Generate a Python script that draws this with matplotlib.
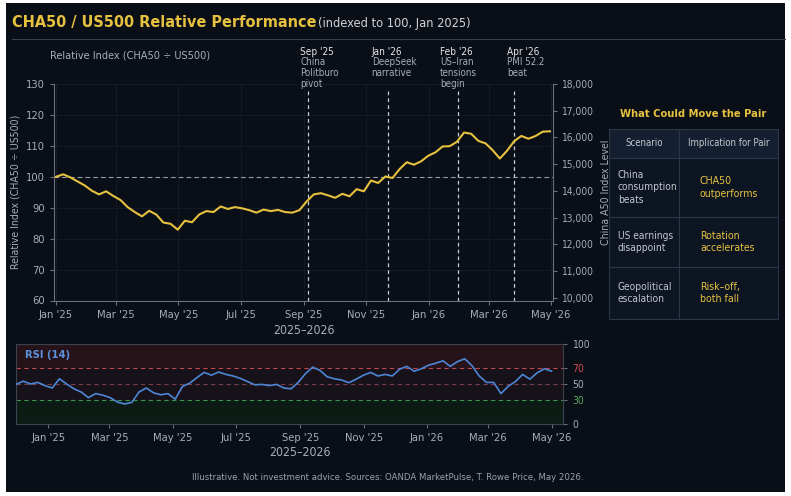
import numpy as np
import pandas as pd
import matplotlib
matplotlib.use('Agg')
import matplotlib.pyplot as plt
import matplotlib.dates as mdates
from matplotlib.patches import Rectangle
from matplotlib.ticker import FuncFormatter

plt.rcParams['font.family'] = ['DejaVu Sans']
plt.rcParams['font.stretch'] = 'condensed'

# relative index CHA50 / US500, weekly readings Jan 2025 - Apr 2026
rel_index = [100.0, 100.8, 99.8, 98.5, 97.2, 95.5, 94.3, 95.3, 93.8, 92.5,
             90.2, 88.6, 87.2, 89.0, 87.8, 85.2, 84.8, 82.9, 85.8, 85.3,
             87.8, 88.9, 88.6, 90.4, 89.6, 90.2, 89.8, 89.2, 88.4, 89.4,
             88.9, 89.3, 88.6, 88.4, 89.2, 92.0, 94.3, 94.7, 94.0, 93.2,
             94.5, 93.7, 96.0, 95.3, 98.8, 98.0, 100.1, 99.6, 102.5, 104.7,
             103.9, 105.0, 106.8, 107.9, 109.8, 109.9, 111.3, 114.3, 113.9, 111.6,
             110.8, 108.6, 105.9, 108.4, 111.5, 113.2, 112.3, 113.2, 114.6, 114.7]
rel_dates = pd.date_range('2025-01-01', '2026-04-30', periods=len(rel_index))

# RSI(14), weekly readings Dec 2024 - May 2026
rsi = [49.5, 53.5, 50, 52, 48, 45, 56.5, 50, 44, 40,
       33, 38, 36, 33, 27.5, 25, 27, 40, 45, 39,
       36.5, 38, 31, 47, 51, 58, 64.5, 61, 65, 62,
       60, 57, 53, 49, 49.5, 48, 49.5, 45, 44, 52,
       63, 71, 67, 59, 56.5, 55, 51.6, 56, 61, 64.5,
       60, 62, 60, 68.5, 72, 66, 69, 73.5, 76, 79,
       72, 78, 81.5, 73, 60, 52, 52, 38, 47, 53,
       62, 56, 64, 69, 66]
rsi_dates = pd.date_range('2024-12-01', '2026-05-01', periods=len(rsi))

event_dates = pd.to_datetime(['2025-09-05', '2025-11-22', '2026-01-30', '2026-03-26'])
event_tags = ["Sep '25", "Jan '26", "Feb '26", "Apr '26"]
event_notes = ["China\nPolitburo\npivot", "DeepSeek\nnarrative", "US\u2013Iran\ntensions\nbegin", "PMI 52.2\nbeat"]
event_shift = [-8, -16, -18, -7]

rel_ticks = [60, 70, 80, 90, 100, 110, 120, 130]
a50_ticks = [10000, 11000, 12000, 13000, 14000, 15000, 16000, 17000, 18000]
rsi_ticks = [0, 30, 50, 70, 100]

table_header = ["Scenario", "Implication for Pair"]
scenarios = ["China\nconsumption\nbeats", "US earnings\ndisappoint", "Geopolitical\nescalation"]
implications = ["CHA50\noutperforms", "Rotation\naccelerates", "Risk\u2013off,\nboth fall"]

BG = '#0a0e16'
GOLD = '#e6c140'
GRAY = '#a9aeb6'
SPINE = '#6a707a'
W, H = 791, 496

fig = plt.figure(figsize=(7.91, 4.96), dpi=100, facecolor='white')
fig.patches.append(Rectangle((6 / W, 4 / H), 779 / W, 489 / H, transform=fig.transFigure,
                             facecolor=BG, edgecolor='none', zorder=-10))


def px(x0, y0, x1, y1):
    return [x0 / W, 1 - y1 / H, (x1 - x0) / W, (y1 - y0) / H]


# title
fig.text(12 / W, 1 - 22 / H, "CHA50 / US500 Relative Performance", color=GOLD,
         fontsize=11.6, fontweight='bold', va='center')
fig.text(318 / W, 1 - 23 / H, "(indexed to 100, Jan 2025)", color='#cfd2d6',
         fontsize=9.2, va='center')
fig.add_artist(plt.Line2D([12 / W, 785 / W], [1 - 39 / H, 1 - 39 / H], color='#3a404a', lw=0.8))
fig.text(50 / W, 1 - 56 / H, "Relative Index (CHA50 \u00f7 US500)", color=GRAY, fontsize=7.8, va='center')

# main panel
ax = fig.add_axes(px(54, 84, 553, 300.5))
ax.set_facecolor(BG)
ax.plot(rel_dates, rel_index, color=GOLD, lw=1.5, zorder=3)
ax.axhline(100, color='#9aa0a8', lw=0.8, ls=(0, (4, 3)), zorder=2)
ax.set_ylim(60, 130)
ax.set_yticks(rel_ticks)
ax.set_xlim(pd.Timestamp('2024-12-30'), pd.Timestamp('2026-05-03'))
ax.xaxis.set_major_locator(mdates.MonthLocator(bymonth=[1, 3, 5, 7, 9, 11]))
ax.xaxis.set_major_formatter(mdates.DateFormatter("%b '%y"))
ax.grid(True, color='#171d29', lw=0.6)
for s in ['top', 'right']:
    ax.spines[s].set_visible(False)
for s in ['left', 'bottom']:
    ax.spines[s].set_color(SPINE)
ax.tick_params(colors=SPINE, labelcolor=GRAY, labelsize=8, length=3)
ax.set_ylabel("Relative Index (CHA50 \u00f7 US500)", color=GRAY, fontsize=7.6, labelpad=4)
ax.set_xlabel("2025\u20132026", color=GRAY, fontsize=8.8, labelpad=3)

for d, tag, note, sh in zip(event_dates, event_tags, event_notes, event_shift):
    dn = mdates.date2num(d)
    ax.plot([d, d], [60, 128.5], color='#c9cdd3', lw=0.9, ls=(0, (3, 2.5)), zorder=2)
    ax.annotate(tag, xy=(dn, 1), xycoords=ax.get_xaxis_transform(), xytext=(sh * 0.72, 32 * 0.72),
                textcoords='offset points', color='#e4e6ea', fontsize=7.2, va='center', ha='left')
    ax.annotate(note, xy=(dn, 1), xycoords=ax.get_xaxis_transform(), xytext=(sh * 0.72, 27 * 0.72),
                textcoords='offset points', color=GRAY, fontsize=7, va='top', ha='left',
                linespacing=1.1)

ax2 = ax.twinx()
ax2.set_ylim(9900, 18000)
ax2.set_yticks(a50_ticks)
ax2.yaxis.set_major_formatter(FuncFormatter(lambda v, _: f'{v:,.0f}'))
for s in ['top', 'left', 'bottom']:
    ax2.spines[s].set_visible(False)
ax2.spines['right'].set_color(SPINE)
ax2.tick_params(colors=SPINE, labelcolor=GRAY, labelsize=7.3, length=3)
ax2.set_ylabel("China A50 Index Level", color=GRAY, fontsize=7.6, labelpad=5)

# RSI panel
ax3 = fig.add_axes(px(16, 344, 563, 424))
ax3.set_facecolor(BG)
ax3.axhspan(70, 100, color='#26131a', lw=0)
ax3.axhspan(30, 70, color='#17121a', lw=0)
ax3.axhspan(0, 30, color='#0c1c15', lw=0)
ax3.axhline(70, color='#c2464e', lw=0.8, ls=(0, (4, 3)))
ax3.axhline(50, color='#7a3d46', lw=0.8, ls=(0, (4, 3)))
ax3.axhline(30, color='#3f9150', lw=0.8, ls=(0, (4, 3)))
ax3.plot(rsi_dates, rsi, color='#4d86d6', lw=1.2, zorder=3)
ax3.set_ylim(0, 100)
ax3.set_xlim(pd.Timestamp('2024-12-01'), pd.Timestamp('2026-05-12'))
ax3.yaxis.tick_right()
ax3.set_yticks(rsi_ticks)
ax3.xaxis.set_major_locator(mdates.MonthLocator(bymonth=[1, 3, 5, 7, 9, 11]))
ax3.xaxis.set_major_formatter(mdates.DateFormatter("%b '%y"))
for s in ax3.spines.values():
    s.set_color('#3c434e')
ax3.tick_params(colors=SPINE, labelcolor=GRAY, labelsize=8, length=3)
ax3.tick_params(axis='y', labelsize=7.5)
for lbl, val in zip(ax3.get_yticklabels(), rsi_ticks):
    if val == 70:
        lbl.set_color('#d0504f')
    elif val == 30:
        lbl.set_color('#5aa85f')
ax3.text(0.016, 0.86, "RSI (14)", transform=ax3.transAxes, color='#5b90dc', fontsize=8,
         fontweight='bold', va='center')
fig.text(300 / W, 1 - 452 / H, "2025\u20132026", color=GRAY, fontsize=8.8, ha='center', va='center')
fig.text(583 / W, 1 - 478 / H,
         "Illustrative. Not investment advice. Sources: OANDA MarketPulse, T. Rowe Price, May 2026.",
         color='#9ca1a9', fontsize=6.8, ha='right', va='center')

# scenario table
ov = fig.add_axes([0, 0, 1, 1])
ov.set_xlim(0, W)
ov.set_ylim(H, 0)
ov.set_axis_off()
ov.patch.set_alpha(0)
ov.text(693, 114, "What Could Move the Pair", color=GOLD, fontsize=8, fontweight='bold',
        ha='center', va='center')
col_x = [609, 679, 778]
row_y = [129, 158, 217, 267, 319]
for r in range(4):
    for c in range(2):
        fc = '#142032' if r == 0 else '#0d1523'
        ov.add_patch(Rectangle((col_x[c], row_y[r]), col_x[c + 1] - col_x[c], row_y[r + 1] - row_y[r],
                               facecolor=fc, edgecolor='#2a3547', lw=0.8))
for c, txt in enumerate(table_header):
    ov.text((col_x[c] + col_x[c + 1]) / 2, (row_y[0] + row_y[1]) / 2, txt, color='#c4c8ce',
            fontsize=6.9, ha='center', va='center')
for r, (sc, im) in enumerate(zip(scenarios, implications)):
    yc = (row_y[r + 1] + row_y[r + 2]) / 2
    ov.text(col_x[0] + 9, yc, sc, color='#c4c8ce', fontsize=7.3, ha='left', va='center', linespacing=1.35)
    ov.text(col_x[1] + 21, yc, im, color=GOLD, fontsize=7.6, ha='left', va='center', linespacing=1.35)

fig.savefig('out.png', dpi=100, facecolor=fig.get_facecolor())
